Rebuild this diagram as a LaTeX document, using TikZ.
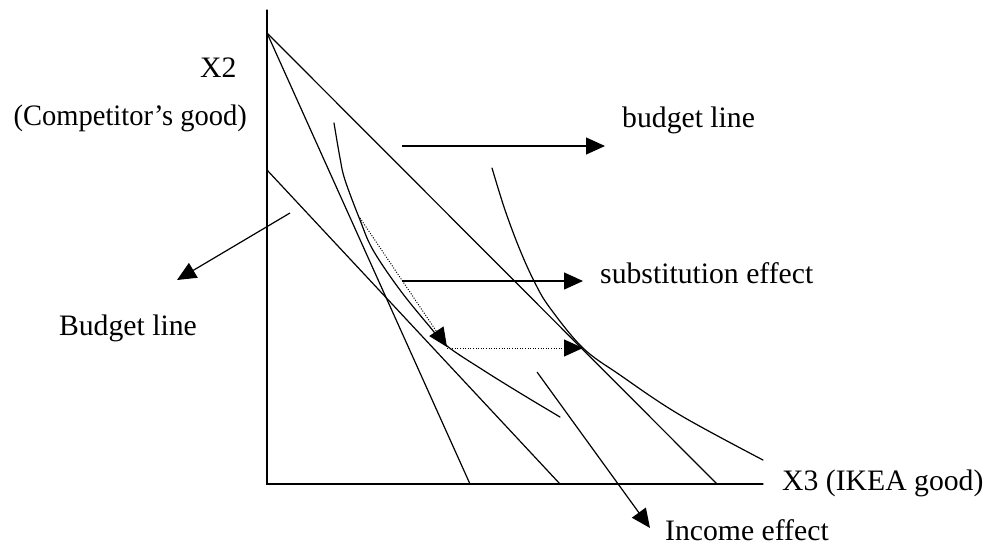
\documentclass[tikz,border=0pt]{standalone}
\usepackage{fontspec}
\setmainfont{Liberation Serif}
\usetikzlibrary{arrows.meta}
\tikzset{
  ln/.style={line width=1.2pt, line cap=round},
  arr/.style={line width=1.2pt, -{Triangle[length=19pt,width=17pt]}},
  dotarr/.style={line width=1pt, dash pattern=on 1pt off 1.6pt, -{Triangle[length=19pt,width=17pt]}},
  lbl/.style={inner sep=0pt, font=\fontsize{29.7}{34}\selectfont}
}
\begin{document}
\begin{tikzpicture}[x=1pt,y=-1pt]
\useasboundingbox (0,0) rectangle (988,546);
% axes
\coordinate (ytop) at (267,10);
\coordinate (O) at (267,484);
\coordinate (xend) at (763,484);
\draw[ln] (ytop) -- (O) -- (xend);
% budget lines
\coordinate (A) at (267,33);
\coordinate (B) at (267,170);
\coordinate (S1) at (470,484);
\coordinate (S2) at (560,484);
\coordinate (S3) at (717,484);
\draw[ln] (A) -- (S1);
\draw[ln] (A) -- (S3);
\draw[ln] (B) -- (S2);
% indifference curves
\draw[ln] plot[smooth, tension=0.6] coordinates {(334,123) (340,158) (345,180) (360,220) (373,250) (400,290) (430,327) (447,346) (483,370) (520,393) (560,417)};
\draw[ln] plot[smooth, tension=0.6] coordinates {(492,168) (505,210) (520,250) (535,283) (550,308) (583,348) (620,375) (680,415) (763,460)};
% labels
\node[lbl, anchor=base west] (x2) at (200,77) {X2};
\node[lbl, anchor=base east] (comp) at (247,125) {\scalebox{0.96}[1]{(Competitor’s good)}};
\node[lbl, anchor=base west] (bl) at (622,127) {budget line};
\node[lbl, anchor=base west] (sub) at (600,283) {substitution effect};
\node[lbl, anchor=base east] (Bl) at (197,335) {Budget line};
\node[lbl, anchor=base west] (x3) at (782,490) {X3 (IKEA good)};
\node[lbl, anchor=base west] (inc) at (665,540) {Income effect};
% arrows
\coordinate (a1s) at (402,146); \coordinate (a1e) at (605,146);
\draw[arr] (a1s) -- (a1e);
\coordinate (a2s) at (402,281); \coordinate (a2e) at (583,281);
\draw[arr] (a2s) -- (a2e);
\coordinate (a3s) at (290,213); \coordinate (a3e) at (177,280);
\draw[arr] (a3s) -- (a3e);
\coordinate (a4s) at (537,372); \coordinate (a4e) at (650,528);
\draw[arr] (a4s) -- (a4e);
% dotted arrows
\coordinate (d1s) at (360,218); \coordinate (d1e) at (447,347);
\draw[dotarr] (d1s) -- (d1e);
\coordinate (d2s) at (447,348); \coordinate (d2e) at (583,348);
\draw[dotarr] (d2s) -- (d2e);
\end{tikzpicture}
\end{document}
